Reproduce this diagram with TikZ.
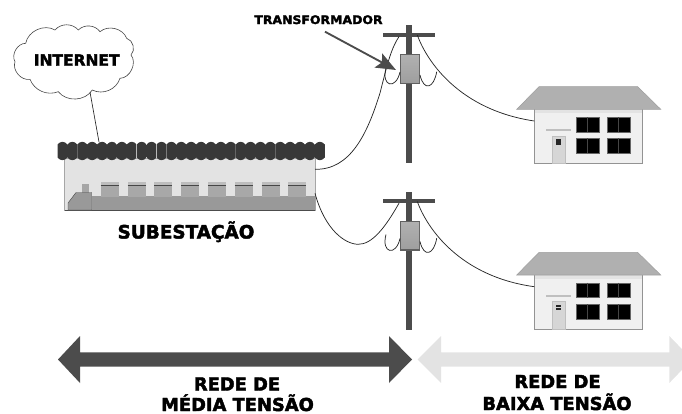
\documentclass[tikz,border=0pt]{standalone}
\usepackage{fontspec}
\setmainfont{DejaVu Sans}[BoldFeatures={FakeBold=2.4}]
\usetikzlibrary{arrows.meta}
\definecolor{poledark}{gray}{0.30}
\definecolor{bandgray}{gray}{0.60}
\definecolor{wiregray}{gray}{0.15}
\tikzset{
  x=0.75pt, y=-0.75pt,
  wire/.style={draw=wiregray, line width=0.55pt},
  headline/.style={font=\bfseries, anchor=base, inner sep=0pt, text=black},
  poleart/.style={fill=poledark},
  wingarrow/.style={fill=#1},
  windowpane/.style={fill=black, draw=black!60, line width=0.3pt},
}
% Utility pole carrying a transformer
\newcommand{\utilitypole}[2]{%
  \begin{scope}[shift={(0,#2)}, name prefix=#1-]
    \fill[poleart] (406,25) rectangle (412.3,163);
    \fill[poleart] (383,32.7) rectangle (435,36.7);
    \fill[gray!75!black] (400,54) rectangle (420,84);
    \shade[top color=gray!62, bottom color=gray!75] (401,55.5) rectangle (419,82);
    \coordinate (armleft) at (399,36.7);
    \coordinate (armright) at (417.3,35);
    \coordinate (boxleft) at (400,72);
    \coordinate (boxright) at (420,75);
    \coordinate (tapleft) at (386,68);
    \coordinate (tapright) at (436.7,71.7);
  \end{scope}}
% House with tiled roof, door and four windows
\newcommand{\smallhouse}[2]{%
  \begin{scope}[shift={(0,#2)}, name prefix=#1-]
    \fill[gray!12, draw=gray!85, line width=0.6pt] (534.3,109) rectangle (642.7,163.3);
    \fill[gray!22] (534.8,109) rectangle (642.2,113);
    \fill[gray!62, draw=gray!75, line width=0.4pt] (539,86.7) -- (637.7,86.7) -- (660.7,109.3) -- (516.7,109.3) -- cycle;
    \foreach \wx in {575.7,606.7} \foreach \wy in {117,138.3} {
      \fill[windowpane] (\wx,\wy) rectangle ++(23.6,14.8);
      \draw[gray!55!black, line width=0.3pt] (\wx+11.8,\wy) -- ++(0,14.8);
    }
    \fill[gray!50] (545.7,129.2) rectangle (571,131.2);
    \fill[gray!32, draw=gray!50, line width=0.3pt] (552,135.7) rectangle (564.7,163);
    \foreach \dx in {556.2,559} \foreach \dy in {139.2,142.4} {
      \fill[black!85] (\dx,\dy) rectangle ++(2.3,2.3);
    }
    \coordinate (service) at (534.3,121);
  \end{scope}}
\begin{document}
\begin{tikzpicture}
  \useasboundingbox (0,0) rectangle (682,414);
  \begin{scope}
    \clip (0,0) rectangle (682,414);

    % Network cloud
    \coordinate (cloudbase) at (90,92);
    \draw[draw=gray!55!black, line width=0.45pt, fill=white]
      (25.7,43.3) to[bend left=55] (55,30) to[bend left=50] (78.3,30)
      to[bend left=50] (100,31.7) to[bend left=55] (126.7,38.3)
      to[bend left=60] (131,55) to[bend left=65] (120,78.3)
      to[bend left=50] (92.3,90) to[bend left=55] (58.3,91.7)
      to[bend left=45] (30,79.3) to[bend left=60] (15,61.7)
      to[bend left=60] cycle;
    \node[headline, font=\bfseries\fontsize{11.6}{13}\selectfont] (internet) at (76.7,65.7) {INTERNET};

    % Substation building
    \coordinate (roofpoint) at (99,142);
    \draw[draw=gray!30!black, line width=0.5pt] (cloudbase) -- (roofpoint);
    \fill[gray!22, draw=gray!70, line width=0.7pt] (64.5,158) rectangle (315,210);
    \fill[bandgray] (91.7,196) rectangle (315,210);
    \draw[gray!60!black, line width=0.4pt] (64.5,210) -- (315,210);
    \foreach \i in {0,...,7} {
      \fill[gray!68] ({100.7+26.8*\i},182.3) rectangle ++(18,14.4);
      \fill[gray!52] ({100.7+26.8*\i},182.3) rectangle ++(18,3);
      \draw[gray!55!black, line width=0.3pt] ({100.7+26.8*\i},185.3) -- ++(18,0);
    }
    \fill[gray!70] (82,183.5) rectangle (88.5,192.5);
    \fill[bandgray, draw=gray!55!black, line width=0.3pt]
      (68,210) -- (68,203) -- (76,192.5) -- (91.7,192.5) -- (91.7,210) -- cycle;
    % Scalloped roof tiles
    \foreach \i in {0,...,26} {
      \shade[left color=black!78, middle color=black!58, right color=black!78]
        ({57.5+9.9*\i},144.5) .. controls +(3,-3.6) and +(-3,-3.6) .. ++(9.9,0)
        -- ++(0,13) .. controls +(-3,3.6) and +(3,3.6) .. ++(-9.9,0) -- cycle;
    }
    \node[headline, font=\bfseries\fontsize{13.8}{15}\selectfont] (subst) at (186,238.5) {SUBESTAÇÃO};
    \coordinate (subupper) at (315,169.3);
    \coordinate (sublower) at (315,193.3);

    % Poles and houses
    \utilitypole{upper}{0}
    \utilitypole{lower}{166.5}
    \smallhouse{houseA}{0}
    \smallhouse{houseB}{165.7}

    % Medium-voltage lines
    \draw[wire] (subupper) .. controls (350,170) and (367,135) .. (380,93)
      .. controls (386,70) and (390,50) .. (upper-armleft);
    \draw[wire] (sublower) .. controls (325,230) and (345,244) .. (358,244.3)
      .. controls (372,244.5) and (385,228) .. (lower-armleft);
    % Jumpers into the transformers and low-voltage service drops
    \foreach \pole/\home/\drop in {upper/houseA/0, lower/houseB/166.5} {
      \begin{scope}[shift={(0,\drop)}]
        \draw[wire] (\pole-tapleft) .. controls (381,87) and (396,90) .. (\pole-boxleft);
        \draw[wire] (\pole-boxright) .. controls (424,92) and (434,88) .. (\pole-tapright);
        \draw[wire] (\pole-armright) .. controls (427,62) and (460,110) .. (\home-service);
      \end{scope}
    }

    % Transformer callout
    \node[headline, font=\bfseries\fontsize{8.8}{10}\selectfont, xscale=1.06] (trafo) at (318.5,24) {TRANSFORMADOR};
    \coordinate (calloutstart) at (325,31.7);
    \coordinate (callouttip) at (396,70);
    \draw[draw=poledark, line width=1.4pt, -{Stealth[length=15pt, width=12pt, inset=3pt]}] (calloutstart) -- (callouttip);

    % Network extent arrows
    \fill[wingarrow=poledark]
      (58,359.5) -- (80,336) -- (80,352.3) -- (389,352.3) -- (389,336) -- (412,359.5)
      -- (389,383) -- (389,366.7) -- (80,366.7) -- (80,383) -- cycle;
    \fill[wingarrow=gray!22]
      (417.7,359.5) -- (441,336) -- (441,352.3) -- (669.3,352.3) -- (669.3,336) -- (692,359.5)
      -- (669.3,383) -- (669.3,366.7) -- (441,366.7) -- (441,383) -- cycle;

    % Network labels
    \node[headline, font=\bfseries\fontsize{13.4}{15}\selectfont] (medA) at (237,390.5) {REDE DE};
    \node[headline, font=\bfseries\fontsize{13.4}{15}\selectfont] (medB) at (237.5,411) {MÉDIA TENSÃO};
    \node[headline, font=\bfseries\fontsize{13.4}{15}\selectfont] (lowA) at (557.5,388) {REDE DE};
    \node[headline, font=\bfseries\fontsize{13.4}{15}\selectfont] (lowB) at (557,410) {BAIXA TENSÃO};
  \end{scope}
\end{tikzpicture}
\end{document}
